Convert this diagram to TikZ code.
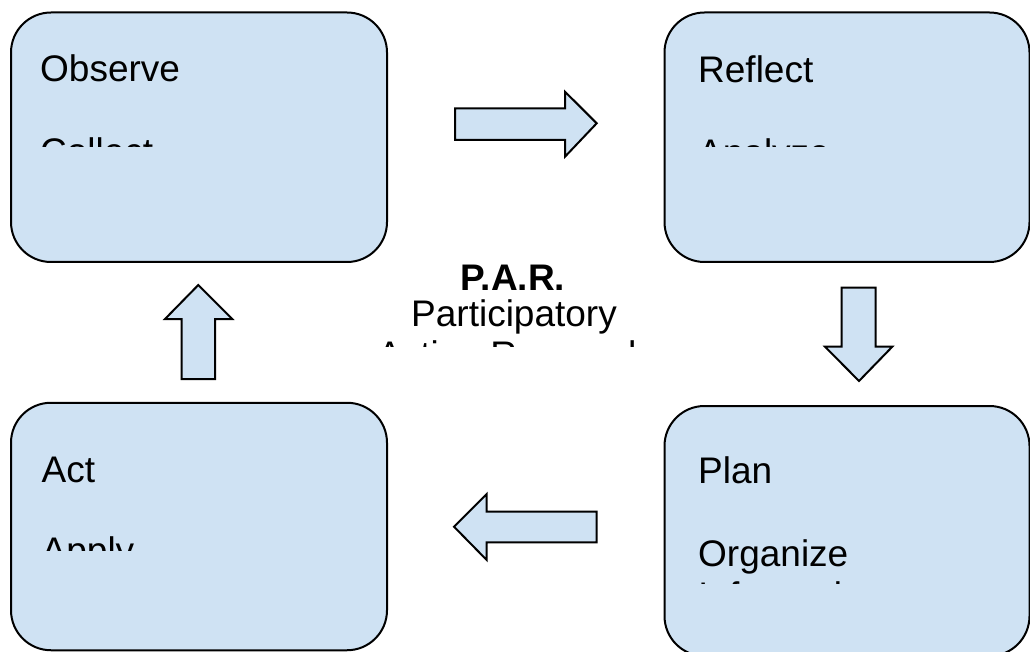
\documentclass[tikz,border=0pt]{standalone}
\usepackage{fontspec}
\setmainfont{Liberation Sans}
\definecolor{stagefill}{HTML}{CFE2F3}
\tikzset{
  stagebox/.style={draw=black, line width=2pt, fill=stagefill, rounded corners=40pt,
    inner sep=0pt, outer sep=0pt},
  blockarrow/.style={draw=black, line width=2pt, fill=stagefill, line join=miter},
  stagetext/.style={anchor=base west, inner sep=0pt, font=\fontsize{37}{41.5}\selectfont},
  centertext/.style={anchor=base, inner sep=0pt, font=\fontsize{37}{41.5}\selectfont},
}
\begin{document}
\begin{tikzpicture}[x=1pt,y=-1pt]
\useasboundingbox (0,0) rectangle (1030,652);

% the four stages of the cycle
\node[stagebox, minimum width=376pt, minimum height=249.5pt] (observe) at (199,137.25) {};
\node[stagebox, minimum width=365pt, minimum height=249.5pt] (reflect) at (847,137.25) {};
\node[stagebox, minimum width=376pt, minimum height=247.5pt] (act) at (199,526.5) {};
\node[stagebox, minimum width=365pt, minimum height=250pt] (plan) at (847,531) {};

% stage titles
\node[stagetext] (observe-title) at (40,82) {Observe};
\node[stagetext] (reflect-title) at (698,82.7) {Reflect};
\node[stagetext] (act-title) at (41.5,482.7) {Act};
\node[stagetext] (plan-title) at (698,483) {Plan};
\node[stagetext] (plan-line2) at (698,566.7) {Organize};

% detail lines, cut off by the text area of each box
\begin{scope}
  \clip (11,12) rectangle (387,147);
  \node[stagetext] (observe-line2) at (40,164.8) {Collect};
\end{scope}
\begin{scope}
  \clip (665,12) rectangle (1030,146.7);
  \node[stagetext] (reflect-line2) at (698,165.2) {Analyze};
\end{scope}
\begin{scope}
  \clip (11,402) rectangle (387,550);
  \node[stagetext] (act-line2) at (41.5,563.5) {Apply};
\end{scope}
\begin{scope}
  \clip (665,406) rectangle (1030,583);
  \node[stagetext] (plan-line3) at (698,608.2) {Information};
\end{scope}

% central label
\node[centertext, font=\fontsize{37}{41.5}\selectfont\bfseries] (par) at (513,290.7) {P.A.R.};
\node[centertext] (par-line2) at (514,326) {Participatory};
\begin{scope}
  \clip (360,330) rectangle (670,346.7);
  \node[centertext] (par-line3) at (513,367.5) {Action Research};
\end{scope}

% block arrows between the stages
\draw[blockarrow] (455,108.3) coordinate (ar1) -- (565,108.3) -- (565,91.7)
  -- (596.7,123.3) -- (565,156.7) -- (565,140) -- (455,140) -- cycle;
\draw[blockarrow] (841.7,287.7) coordinate (ar2) -- (875.7,287.7) -- (875.7,346.7)
  -- (892.3,346.7) -- (859,381) -- (825,346.7) -- (841.7,346.7) -- cycle;
\draw[blockarrow] (596.7,511.7) coordinate (ar3) -- (596.7,542.3) -- (486.7,542.3)
  -- (486.7,560) -- (454,526.7) -- (486.7,494) -- (486.7,511.7) -- cycle;
\draw[blockarrow] (181.7,379) coordinate (ar4) -- (215,379) -- (215,319)
  -- (232.3,319) -- (198.3,285) -- (165,319) -- (181.7,319) -- cycle;
\end{tikzpicture}
\end{document}
